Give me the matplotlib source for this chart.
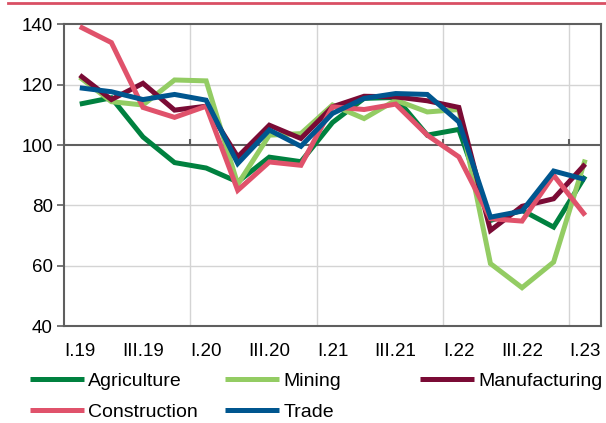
import numpy as np
import matplotlib.pyplot as plt
from matplotlib.lines import Line2D

plt.rcParams['font.family'] = ['Liberation Sans', 'DejaVu Sans']

# quarters I.19 .. I.23
quarters = ['I.19', 'II.19', 'III.19', 'IV.19', 'I.20', 'II.20', 'III.20', 'IV.20',
            'I.21', 'II.21', 'III.21', 'IV.21', 'I.22', 'II.22', 'III.22', 'IV.22', 'I.23']

agriculture = [113.6, 115.7, 102.7, 94.2, 92.4, 87.8, 96.0, 94.5,
               107.5, 115.5, 115.8, 103.3, 105.2, 75.0, 78.4, 72.8, 89.7]
mining = [122.5, 114.4, 113.3, 121.6, 121.3, 87.0, 103.3, 103.8,
          113.3, 108.8, 114.9, 111.0, 111.8, 60.7, 52.7, 61.2, 95.2]
manufacturing = [123.2, 115.1, 120.5, 111.6, 112.9, 96.1, 106.6, 102.2,
                 112.7, 116.2, 116.0, 114.7, 112.5, 71.7, 79.7, 82.2, 93.7]
construction = [139.3, 134.0, 112.5, 109.2, 112.9, 85.0, 94.4, 93.3,
                112.7, 111.8, 113.6, 103.3, 96.1, 75.6, 74.8, 90.0, 76.7]
trade = [119.0, 117.7, 115.1, 116.8, 114.9, 93.9, 105.0, 99.6,
         110.5, 115.5, 117.1, 116.8, 107.7, 76.1, 78.1, 91.4, 88.6]

series = [
    ('Agriculture', agriculture, '#00813F'),
    ('Mining', mining, '#93CC63'),
    ('Manufacturing', manufacturing, '#7A0B35'),
    ('Construction', construction, '#E0526B'),
    ('Trade', trade, '#00568F'),
]

axis_grey = '#5f5f5f'
grid_grey = '#d4d4d4'

fig = plt.figure(figsize=(6.06, 4.23), dpi=100)
ax = fig.add_axes([64 / 606, 1 - 326 / 423, 537 / 606, (326 - 24.5) / 423])

x = np.arange(len(quarters))
lines = {}
for name, vals, col in series:
    lines[name], = ax.plot(x, vals, color=col, lw=3.6, solid_joinstyle='miter',
                           solid_capstyle='butt', zorder=3)

ax.set_xlim(-0.5, len(quarters) - 0.5)
ax.set_ylim(40, 140)
ax.set_yticks([40, 60, 80, 100, 120, 140])

# gridlines
for yv in [60, 80, 120]:
    ax.axhline(yv, color=grid_grey, lw=1, zorder=1)
bounds = np.arange(3.5, len(quarters), 4)
for b in bounds:
    ax.axvline(b, color=grid_grey, lw=1, zorder=1)

# category axis crossing at 100
ax.axhline(100, color=axis_grey, lw=1.5, zorder=2)
ax.vlines(np.concatenate([[-0.5], bounds]), 100, 102, color=axis_grey, lw=1.5, zorder=2)

ax.set_xticks(x[::2])
ax.set_xticklabels(quarters[::2])
ax.tick_params(axis='x', length=0, pad=12, labelsize=13.5)
ax.tick_params(axis='y', length=5, width=1.2, color=axis_grey, pad=3, labelsize=13.5)

for sp in ax.spines.values():
    sp.set_color(axis_grey)
    sp.set_linewidth(1.5)

# top red rule
fig.add_artist(Line2D([8 / 606, 1], [1 - 3 / 423, 1 - 3 / 423], color='#D94F64', lw=2))

# legend, placed per entry
legend_pos = {
    'Agriculture': (30, 381),
    'Mining': (225, 381),
    'Manufacturing': (420, 381),
    'Construction': (30, 412),
    'Trade': (225, 412),
}
for name, (px, py) in legend_pos.items():
    fig.legend([lines[name]], [name], loc='center left',
               bbox_to_anchor=(px / 606, 1 - py / 423), frameon=False,
               borderpad=0, borderaxespad=0, handlelength=2.8, handletextpad=0.2,
               fontsize=14)

fig.savefig('out.png', dpi=100)
